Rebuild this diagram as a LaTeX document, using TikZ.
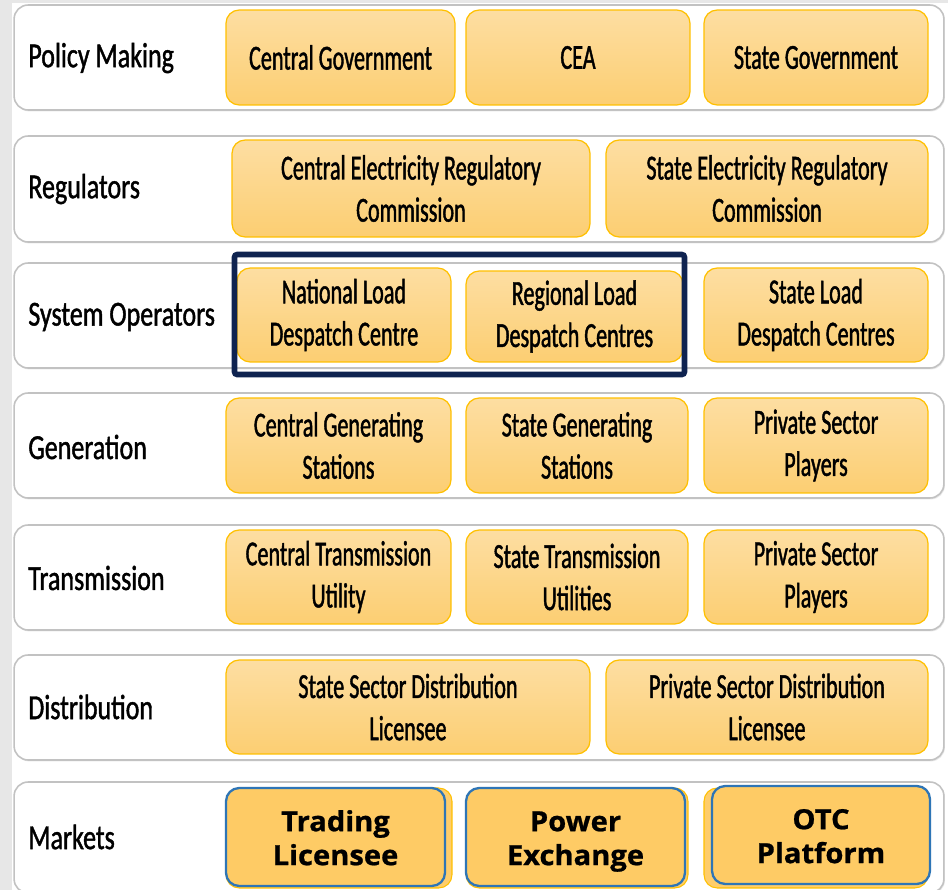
\documentclass[tikz,border=0pt]{standalone}
\usepackage{fontspec}
\setmainfont{Carlito}[FakeStretch=0.63, FakeBold=1.2]
\newfontfamily\tierfont{Carlito}[FakeStretch=0.74, FakeBold=1.2]
\newfontfamily\mktfont{Open Sans}[FakeStretch=1.05, FakeBold=0.8]
\usetikzlibrary{shadows}

\definecolor{rowLine}{HTML}{C2C2C2}
\definecolor{unitTop}{HTML}{FDDEA2}
\definecolor{unitBot}{HTML}{FCCE72}
\definecolor{unitLine}{HTML}{FFC000}
\definecolor{mktFill}{HTML}{FECB65}
\definecolor{mktLine}{HTML}{2E75B6}
\definecolor{navy}{HTML}{0F2350}
\definecolor{sideGray}{HTML}{E7E7E7}

\begin{document}
\begin{tikzpicture}[
  x=0.02cm, y=-0.02cm,
  tier/.style={draw=rowLine, line width=0.9pt, fill=white, rounded corners=8pt,
               minimum width=18.6cm, minimum height=2.1cm,
               drop shadow={shadow xshift=0.6pt, shadow yshift=-0.8pt, fill=black!18}},
  tierlabel/.style={anchor=west, inner sep=0pt, font=\tierfont\fontsize{20}{24}\selectfont},
  unit/.style={draw=unitLine, line width=0.7pt, top color=unitTop, bottom color=unitBot,
               rounded corners=7.5pt, align=center, minimum height=1.9cm,
               font=\fontsize{20}{24}\selectfont},
  ghost/.style={draw=unitLine, line width=0.6pt, fill=mktFill!90!unitTop,
               rounded corners=7.5pt, minimum height=2cm},
  market/.style={draw=mktLine, line width=1.3pt, fill=mktFill, rounded corners=7.5pt,
               align=center, minimum width=4.38cm, minimum height=1.96cm,
               text height=32pt, text depth=0pt,
               font=\mktfont\bfseries\fontsize{15.8}{19.3}\selectfont},
  focus/.style={draw=navy, line width=3.2pt, rounded corners=1.5pt}
]
\useasboundingbox (0,0) rectangle (948,890);
\clip (0,0) rectangle (948,890);
\fill[white] (0,0) rectangle (948,890);
\fill[sideGray] (0,0) rectangle (12,890);
\fill[sideGray] (12,0) rectangle (948,3);

% tiers
\node[tier] (policy) at (479,57.5) {};
\node[tier, minimum height=2.12cm] (regul) at (479,189) {};
\node[tier] (sysop) at (479,315.5) {};
\node[tier] (genr) at (479,445.5) {};
\node[tier] (trans) at (479,577.5) {};
\node[tier] (distr) at (479,707.5) {};
\node[tier, minimum height=2.22cm] (mkts) at (479,837.5) {};

\node[tierlabel] (policyL) at (28,58) {Policy Making};
\node[tierlabel] (regulL) at (28,189) {Regulators};
\node[tierlabel] (sysopL) at (28,317) {System Operators};
\node[tierlabel] (genrL) at (28,447) {Generation};
\node[tierlabel] (transL) at (28,578) {Transmission};
\node[tierlabel] (distrL) at (28,707) {Distribution};
\node[tierlabel] (mktsL) at (28,837) {Markets};

% policy making
\node[unit, minimum width=4.58cm] (cgov) at (340.5,57.5) {Central Government};
\node[unit, minimum width=4.48cm] (cea) at (578,57.5) {CEA};
\node[unit, minimum width=4.48cm] (sgov) at (816,57.5) {State Government};

% regulators
\node[unit, minimum width=7.16cm, minimum height=1.94cm] (cerc) at (411,188.5)
  {Central Electricity Regulatory\\Commission};
\node[unit, minimum width=6.44cm, minimum height=1.94cm] (serc) at (767,188.5)
  {State Electricity Regulatory\\Commission};

% system operators
\node[unit, minimum width=4.28cm, minimum height=1.88cm] (nldc) at (344,315)
  {National Load\\Despatch Centre};
\node[unit, minimum width=4.34cm, minimum height=1.82cm] (rldc) at (574.5,316.5)
  {Regional Load\\Despatch Centres};
\node[unit, minimum width=4.48cm, minimum height=1.88cm] (sldc) at (816,315)
  {State Load\\Despatch Centres};
\node[focus, minimum width=9.0cm, minimum height=2.4cm] (ldc) at (459.5,314.5) {};

% generation
\node[unit, minimum width=4.5cm] (cgs) at (338.5,445.5) {Central Generating\\Stations};
\node[unit, minimum width=4.44cm] (sgs) at (577,445.5) {State Generating\\Stations};
\node[unit, minimum width=4.48cm] (pgen) at (816,445.5) {Private Sector\\Players};

% transmission
\node[unit, minimum width=4.5cm, minimum height=1.88cm] (ctu) at (338.5,577)
  {Central Transmission\\Utility};
\node[unit, minimum width=4.44cm, minimum height=1.88cm] (stu) at (577,577)
  {State Transmission\\Utilities};
\node[unit, minimum width=4.48cm, minimum height=1.88cm] (ptrans) at (816,577)
  {Private Sector\\Players};

% distribution
\node[unit, minimum width=7.28cm, minimum height=1.88cm] (ssdl) at (408,707)
  {State Sector Distribution\\Licensee};
\node[unit, minimum width=6.44cm, minimum height=1.88cm] (psdl) at (767,707)
  {Private Sector Distribution\\Licensee};

% markets
\node[ghost, minimum width=4.52cm] (trlG) at (339,838) {};
\node[ghost, minimum width=4.44cm] (pexG) at (577,838) {};
\node[ghost, minimum width=4.48cm] (otcG) at (816,838) {};
\node[market] (trl) at (335.5,837) {Trading\\Licensee};
\node[market] (pex) at (575.5,837) {Power\\Exchange};
\node[market, minimum width=4.36cm] (otc) at (821,835) {OTC\\Platform};
\end{tikzpicture}
\end{document}
